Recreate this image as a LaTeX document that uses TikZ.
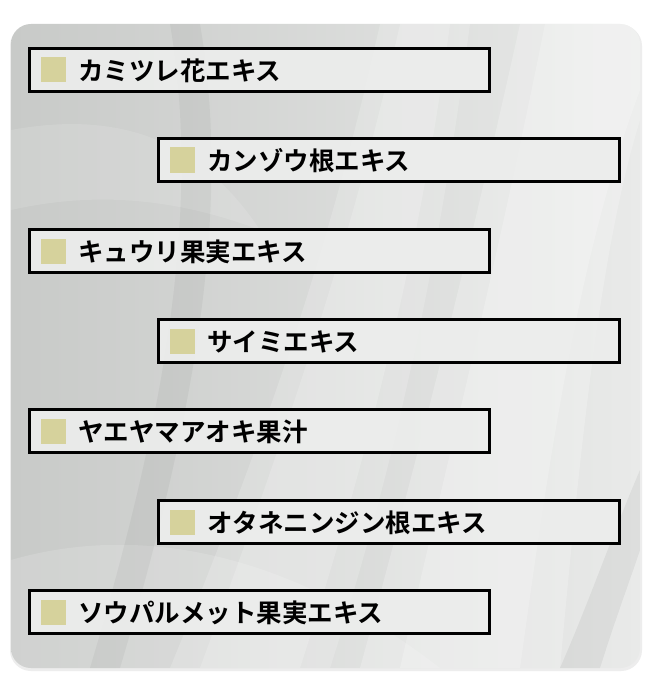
\documentclass[tikz,border=0pt]{standalone}
\usepackage{fontspec}
\newfontfamily\cjk{Noto Sans CJK JP}[BoldFont={Noto Sans CJK JP Bold}]
\usetikzlibrary{positioning}
\definecolor{boxfill}{HTML}{ECEDEC}
\definecolor{squarec}{HTML}{D6D29C}
\definecolor{satinA}{HTML}{C8CAC8}
\definecolor{satinB}{HTML}{E9EAE9}
\tikzset{
  itembox/.style={draw=black, line width=2.6pt, fill=boxfill, fill opacity=0.93, draw opacity=1, minimum height=43.5pt, inner sep=0pt},
  leftbox/.style={itembox, minimum width=460.5pt},
  rightbox/.style={itembox, minimum width=461.5pt},
  marker/.style={fill=squarec, minimum width=25pt, minimum height=25pt, inner sep=0pt},
  label/.style={font=\cjk\bfseries\fontsize{25.5pt}{28pt}\selectfont, anchor=west, inner sep=0pt, text=black}
}
\begin{document}
\begin{tikzpicture}[x=1pt,y=-1pt]
\useasboundingbox (0,0) rectangle (650,687);
\fill[white] (0,0) rectangle (650,687);
% shadow
\fill[black!7, rounded corners=21pt] (10,25) rectangle (642,671);
% satin panel
\begin{scope}
\clip[rounded corners=20pt] (11,24) rectangle (640,668);
\shade[left color=satinA, right color=satinB] (11,24) rectangle (640,668);
\fill[white, opacity=0.18] (380,24) .. controls (330,250) and (260,450) .. (170,668) -- (330,668) .. controls (400,450) and (440,250) .. (470,24) -- cycle;
\fill[white, opacity=0.18] (400,24) .. controls (350,250) and (280,450) .. (200,668) -- (300,668) .. controls (370,450) and (420,250) .. (450,24) -- cycle;
\fill[white, opacity=0.22] (520,24) .. controls (470,250) and (420,450) .. (360,668) -- (560,668) .. controls (580,450) and (600,250) .. (640,120) -- (640,24) -- cycle;
\fill[white, opacity=0.22] (545,24) .. controls (500,250) and (450,450) .. (400,668) -- (520,668) .. controls (550,450) and (580,250) .. (640,90) -- (640,24) -- cycle;
\fill[black, opacity=0.05] (640,470) .. controls (610,540) and (590,600) .. (560,668) -- (600,668) .. controls (615,620) and (630,580) .. (640,550) -- cycle;
\fill[white, opacity=0.15] (11,560) .. controls (150,520) and (300,560) .. (440,668) -- (11,668) -- cycle;
\fill[white, opacity=0.12] (11,130) .. controls (120,110) and (200,140) .. (260,230) .. controls (180,200) and (100,190) .. (11,210) -- cycle;
\fill[black, opacity=0.04] (200,24) .. controls (230,200) and (200,400) .. (120,668) -- (90,668) .. controls (170,400) and (200,200) .. (170,24) -- cycle;
\end{scope}
% items
\node[leftbox]  (b1) at (259.5,70)  {};
\node[rightbox] (b2) at (389,160)   {};
\node[leftbox]  (b3) at (259.5,251) {};
\node[rightbox] (b4) at (389,341)   {};
\node[leftbox]  (b5) at (259.5,431) {};
\node[rightbox] (b6) at (389,522)   {};
\node[leftbox]  (b7) at (259.5,612) {};
\foreach \b/\t in {b1/カミツレ花エキス, b2/カンゾウ根エキス, b3/キュウリ果実エキス, b4/サイミエキス, b5/ヤエヤマアオキ果汁, b6/オタネニンジン根エキス, b7/ソウパルメット果実エキス}{
  \node[marker, anchor=west] (\b m) at ([xshift=13pt]\b.west) {};
  \node[label] (\b t) at ([xshift=50pt, yshift=-1pt]\b.west) {\t};
}
\end{tikzpicture}
\end{document}
